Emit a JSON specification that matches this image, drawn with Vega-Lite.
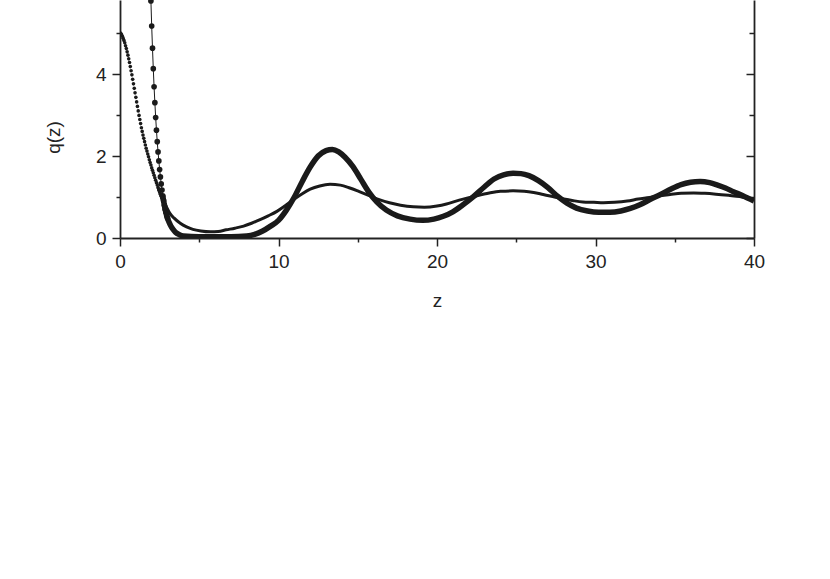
{
  "$schema": "https://vega.github.io/schema/vega-lite/v6.json",
  "width": 634,
  "height": 238,
  "autosize": {"type": "none"},
  "padding": {"left": 120, "top": 0, "right": 76, "bottom": 341},
  "background": "white",
  "config": {
    "view": {"stroke": null},
    "axis": {
      "grid": false,
      "domainColor": "#222222",
      "domainWidth": 1.8,
      "tickColor": "#222222",
      "tickWidth": 1.5,
      "labelFont": "Liberation Sans",
      "labelFontSize": 19,
      "labelColor": "#222222",
      "titleFont": "Liberation Sans",
      "titleFontSize": 19,
      "titleFontWeight": "normal",
      "titleColor": "#222222"
    }
  },
  "data": {"values": [
    {"s":"A","z":0.00,"q":5.00},{"s":"A","z":0.05,"q":4.99},{"s":"A","z":0.10,"q":4.96},{"s":"A","z":0.15,"q":4.92},
    {"s":"A","z":0.20,"q":4.87},{"s":"A","z":0.25,"q":4.82},{"s":"A","z":0.30,"q":4.76},{"s":"A","z":0.35,"q":4.69},
    {"s":"A","z":0.40,"q":4.62},{"s":"A","z":0.45,"q":4.54},{"s":"A","z":0.50,"q":4.46},{"s":"A","z":0.55,"q":4.37},
    {"s":"A","z":0.60,"q":4.28},{"s":"A","z":0.65,"q":4.18},{"s":"A","z":0.70,"q":4.08},{"s":"A","z":0.75,"q":3.98},
    {"s":"A","z":0.80,"q":3.87},{"s":"A","z":0.85,"q":3.76},{"s":"A","z":0.90,"q":3.65},{"s":"A","z":0.95,"q":3.54},
    {"s":"A","z":1.00,"q":3.43},{"s":"A","z":1.05,"q":3.32},{"s":"A","z":1.10,"q":3.21},{"s":"A","z":1.15,"q":3.10},
    {"s":"A","z":1.20,"q":2.99},{"s":"A","z":1.25,"q":2.89},{"s":"A","z":1.30,"q":2.79},{"s":"A","z":1.35,"q":2.69},
    {"s":"A","z":1.40,"q":2.60},{"s":"A","z":1.45,"q":2.51},{"s":"A","z":1.50,"q":2.43},{"s":"A","z":1.55,"q":2.35},
    {"s":"A","z":1.60,"q":2.27},{"s":"A","z":1.65,"q":2.19},{"s":"A","z":1.70,"q":2.12},{"s":"A","z":1.75,"q":2.05},
    {"s":"A","z":1.80,"q":1.98},{"s":"A","z":1.85,"q":1.91},{"s":"A","z":1.90,"q":1.84},{"s":"A","z":1.95,"q":1.78},
    {"s":"A","z":2.00,"q":1.71},{"s":"A","z":2.05,"q":1.65},{"s":"A","z":2.10,"q":1.59},{"s":"A","z":2.15,"q":1.53},
    {"s":"A","z":2.20,"q":1.47},{"s":"A","z":2.25,"q":1.41},{"s":"A","z":2.30,"q":1.35},{"s":"A","z":2.35,"q":1.29},
    {"s":"A","z":2.40,"q":1.23},{"s":"A","z":2.45,"q":1.17},{"s":"A","z":2.50,"q":1.12},{"s":"A","z":2.55,"q":1.07},
    {"s":"A","z":2.60,"q":1.02},{"s":"A","z":2.65,"q":0.97},{"s":"A","z":2.70,"q":0.93},{"s":"A","z":2.75,"q":0.89},
    {"s":"A","z":2.9,"q":0.78},{"s":"A","z":3.15,"q":0.60},{"s":"A","z":3.4,"q":0.49},{"s":"A","z":3.8,"q":0.36},
    {"s":"A","z":4.2,"q":0.27},{"s":"A","z":4.6,"q":0.21},{"s":"A","z":5.1,"q":0.17},{"s":"A","z":5.7,"q":0.15},
    {"s":"A","z":6.2,"q":0.16},{"s":"A","z":6.7,"q":0.20},{"s":"A","z":7.25,"q":0.24},{"s":"A","z":7.8,"q":0.29},
    {"s":"A","z":8.3,"q":0.36},{"s":"A","z":8.8,"q":0.44},{"s":"A","z":9.35,"q":0.54},{"s":"A","z":9.9,"q":0.65},
    {"s":"A","z":10.4,"q":0.78},{"s":"A","z":11.0,"q":0.95},{"s":"A","z":11.5,"q":1.08},{"s":"A","z":12.0,"q":1.19},
    {"s":"A","z":12.6,"q":1.27},{"s":"A","z":13.25,"q":1.31},{"s":"A","z":13.9,"q":1.29},{"s":"A","z":14.5,"q":1.22},
    {"s":"A","z":15.1,"q":1.13},{"s":"A","z":15.8,"q":1.02},{"s":"A","z":16.4,"q":0.93},{"s":"A","z":17.0,"q":0.86},
    {"s":"A","z":17.7,"q":0.80},{"s":"A","z":18.5,"q":0.76},{"s":"A","z":19.2,"q":0.75},{"s":"A","z":20.0,"q":0.78},
    {"s":"A","z":20.6,"q":0.83},{"s":"A","z":21.2,"q":0.90},{"s":"A","z":22.3,"q":1.01},{"s":"A","z":23.3,"q":1.10},
    {"s":"A","z":24.0,"q":1.14},{"s":"A","z":24.8,"q":1.15},{"s":"A","z":25.5,"q":1.14},{"s":"A","z":26.1,"q":1.11},
    {"s":"A","z":26.7,"q":1.06},{"s":"A","z":27.3,"q":1.01},{"s":"A","z":28.0,"q":0.95},{"s":"A","z":28.6,"q":0.91},
    {"s":"A","z":29.2,"q":0.88},{"s":"A","z":29.9,"q":0.87},{"s":"A","z":30.5,"q":0.86},{"s":"A","z":31.2,"q":0.87},
    {"s":"A","z":32.0,"q":0.90},{"s":"A","z":32.7,"q":0.95},{"s":"A","z":33.4,"q":0.99},{"s":"A","z":34.0,"q":1.03},
    {"s":"A","z":34.7,"q":1.06},{"s":"A","z":35.4,"q":1.09},{"s":"A","z":36.2,"q":1.10},{"s":"A","z":36.9,"q":1.09},
    {"s":"A","z":37.6,"q":1.07},{"s":"A","z":38.4,"q":1.04},{"s":"A","z":39.1,"q":1.01},{"s":"A","z":39.6,"q":0.97},
    {"s":"A","z":40.0,"q":0.94},
    {"s":"B","z":1.90,"q":6.50},{"s":"B","z":1.95,"q":5.78},{"s":"B","z":2.00,"q":5.17},{"s":"B","z":2.05,"q":4.63},
    {"s":"B","z":2.10,"q":4.13},{"s":"B","z":2.15,"q":3.69},{"s":"B","z":2.20,"q":3.30},{"s":"B","z":2.25,"q":2.94},
    {"s":"B","z":2.30,"q":2.63},{"s":"B","z":2.35,"q":2.35},{"s":"B","z":2.40,"q":2.10},{"s":"B","z":2.45,"q":1.88},
    {"s":"B","z":2.50,"q":1.67},{"s":"B","z":2.55,"q":1.49},{"s":"B","z":2.60,"q":1.32},{"s":"B","z":2.65,"q":1.17},
    {"s":"B","z":2.70,"q":1.03},{"s":"B","z":2.75,"q":0.91},{"s":"B","z":2.80,"q":0.80},{"s":"B","z":2.85,"q":0.70},
    {"s":"B","z":2.90,"q":0.62},{"s":"B","z":2.95,"q":0.54},{"s":"B","z":3.00,"q":0.48},
    {"s":"B","z":3.1,"q":0.38},{"s":"B","z":3.2,"q":0.30},{"s":"B","z":3.35,"q":0.21},{"s":"B","z":3.5,"q":0.14},
    {"s":"B","z":3.75,"q":0.08},{"s":"B","z":4.0,"q":0.05},{"s":"B","z":5.0,"q":0.03},{"s":"B","z":6.0,"q":0.03},
    {"s":"B","z":7.0,"q":0.03},{"s":"B","z":8.0,"q":0.05},{"s":"B","z":8.5,"q":0.09},{"s":"B","z":9.0,"q":0.17},
    {"s":"B","z":9.5,"q":0.29},{"s":"B","z":10.0,"q":0.43},{"s":"B","z":10.5,"q":0.68},{"s":"B","z":11.0,"q":1.00},
    {"s":"B","z":11.5,"q":1.38},{"s":"B","z":12.0,"q":1.73},{"s":"B","z":12.5,"q":2.00},{"s":"B","z":13.0,"q":2.13},
    {"s":"B","z":13.4,"q":2.16},{"s":"B","z":13.8,"q":2.10},{"s":"B","z":14.2,"q":1.97},{"s":"B","z":14.7,"q":1.74},
    {"s":"B","z":15.2,"q":1.43},{"s":"B","z":15.7,"q":1.12},{"s":"B","z":16.2,"q":0.88},{"s":"B","z":16.8,"q":0.68},
    {"s":"B","z":17.5,"q":0.54},{"s":"B","z":18.3,"q":0.46},{"s":"B","z":19.1,"q":0.43},{"s":"B","z":19.8,"q":0.46},
    {"s":"B","z":20.4,"q":0.53},{"s":"B","z":21.0,"q":0.64},{"s":"B","z":21.6,"q":0.80},{"s":"B","z":22.3,"q":1.01},
    {"s":"B","z":23.0,"q":1.25},{"s":"B","z":23.6,"q":1.44},{"s":"B","z":24.2,"q":1.54},{"s":"B","z":24.8,"q":1.58},
    {"s":"B","z":25.3,"q":1.57},{"s":"B","z":25.8,"q":1.52},{"s":"B","z":26.4,"q":1.40},{"s":"B","z":27.0,"q":1.23},
    {"s":"B","z":27.6,"q":1.02},{"s":"B","z":28.2,"q":0.85},{"s":"B","z":28.8,"q":0.73},{"s":"B","z":29.5,"q":0.66},
    {"s":"B","z":30.2,"q":0.63},{"s":"B","z":30.9,"q":0.63},{"s":"B","z":31.6,"q":0.66},{"s":"B","z":32.2,"q":0.72},
    {"s":"B","z":32.8,"q":0.81},{"s":"B","z":33.5,"q":0.95},{"s":"B","z":34.1,"q":1.06},{"s":"B","z":34.8,"q":1.20},
    {"s":"B","z":35.4,"q":1.30},{"s":"B","z":36.0,"q":1.36},{"s":"B","z":36.6,"q":1.38},{"s":"B","z":37.2,"q":1.35},
    {"s":"B","z":37.7,"q":1.29},{"s":"B","z":38.2,"q":1.22},{"s":"B","z":38.7,"q":1.13},{"s":"B","z":39.3,"q":1.03},
    {"s":"B","z":40.0,"q":0.90}
  ]},
  "resolve": {"axis": {"y": "independent"}},
  "layer": [
    {
      "transform": [{"filter": "datum.s === 'B' && datum.z <= 3.05"}],
      "mark": {"type": "line", "color": "#1a1a1a", "strokeWidth": 1, "clip": true},
      "encoding": {
        "x": {"field": "z", "type": "quantitative",
          "scale": {"domain": [0, 40], "nice": false, "zero": false},
          "axis": {"title": "z", "values": [0,5,10,15,20,25,30,35,40],
            "labelExpr": "datum.value % 10 === 0 ? datum.label : ''",
            "tickSize": {"condition": {"test": "datum.value % 10 === 0", "value": 8}, "value": 4},
            "labelPadding": 6, "titlePadding": 20, "labelFlush": false}},
        "y": {"field": "q", "type": "quantitative",
          "scale": {"domain": [0, 5.805], "nice": false, "zero": false},
          "axis": {"title": "q(z)", "values": [0,1,2,3,4,5],
            "labelExpr": "datum.value % 2 === 0 ? datum.label : ''",
            "tickSize": {"condition": {"test": "datum.value % 2 === 0", "value": 8}, "value": 4},
            "labelPadding": 6, "labelFlush": false,
            "titleX": -67, "titleY": 137, "titleAngle": 270, "titleAlign": "center", "titleBaseline": "middle"}},
        "order": {"field": "z", "type": "quantitative"}
      }
    },
    {
      "transform": [{"filter": "datum.s === 'B' && datum.z <= 3.0"}],
      "mark": {"type": "circle", "color": "#1a1a1a", "size": 32, "opacity": 1, "clip": true},
      "encoding": {
        "x": {"field": "z", "type": "quantitative"},
        "y": {"field": "q", "type": "quantitative", "axis": null}
      }
    },
    {
      "transform": [{"filter": "datum.s === 'B' && datum.z >= 2.7"}],
      "mark": {"type": "line", "color": "#1a1a1a", "strokeWidth": 5.5, "interpolate": "monotone", "clip": true},
      "encoding": {
        "x": {"field": "z", "type": "quantitative"},
        "y": {"field": "q", "type": "quantitative", "axis": null},
        "order": {"field": "z", "type": "quantitative"}
      }
    },
    {
      "transform": [{"filter": "datum.s === 'A' && datum.z <= 2.75"}],
      "mark": {"type": "circle", "color": "#1a1a1a", "size": 13, "opacity": 1, "clip": true},
      "encoding": {
        "x": {"field": "z", "type": "quantitative"},
        "y": {"field": "q", "type": "quantitative", "axis": null}
      }
    },
    {
      "transform": [{"filter": "datum.s === 'A' && datum.z >= 2.4"}],
      "mark": {"type": "line", "color": "#1a1a1a", "strokeWidth": 3, "interpolate": "monotone", "clip": true},
      "encoding": {
        "x": {"field": "z", "type": "quantitative"},
        "y": {"field": "q", "type": "quantitative",
          "axis": {"orient": "right", "title": null, "labels": false, "values": [0,1,2,3,4,5],
            "tickSize": {"condition": {"test": "datum.value % 2 === 0", "value": -8}, "value": -5}}},
        "order": {"field": "z", "type": "quantitative"}
      }
    }
  ]
}
